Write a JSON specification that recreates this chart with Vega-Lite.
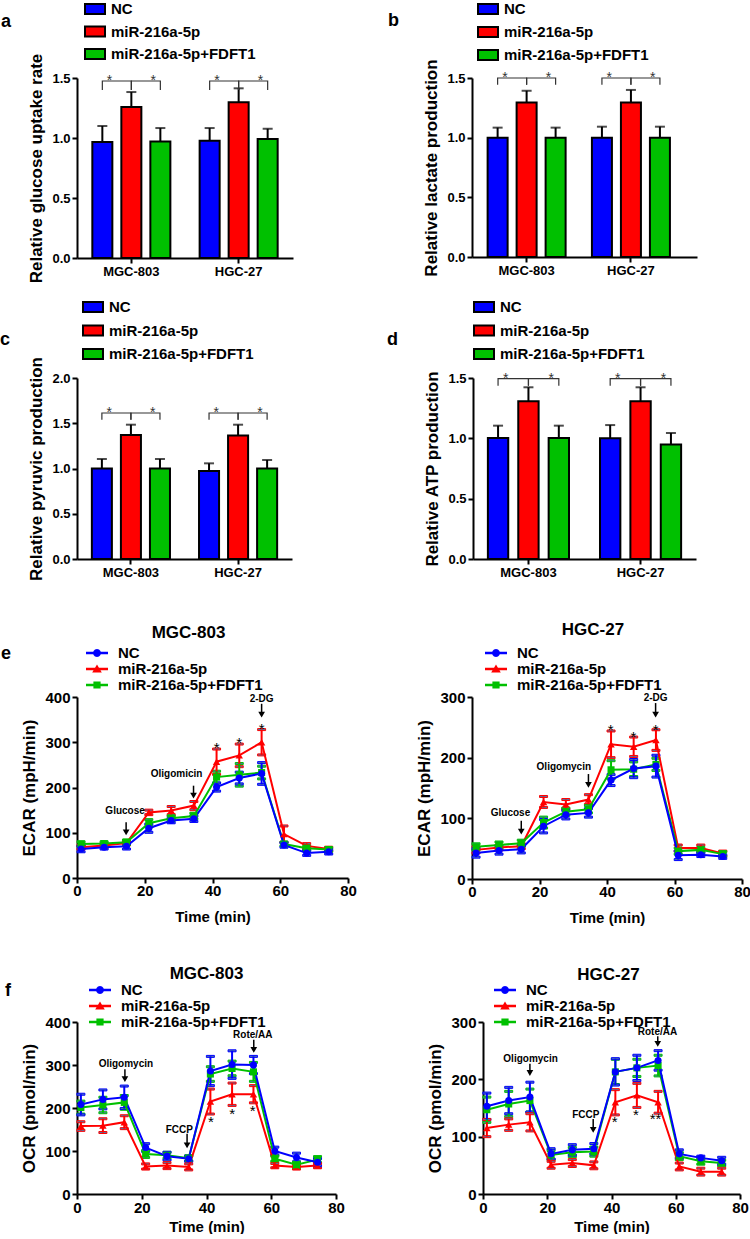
{
"$schema": "https://vega.github.io/schema/vega-lite/v6.json",
"padding": {"left": 0, "top": 0, "right": 0, "bottom": 0},
"config": {
 "font": "Liberation Sans",
 "view": {"stroke": null},
 "axis": {"domainColor": "#000", "domainWidth": 2, "tickColor": "#000", "tickWidth": 2, "tickSize": 5, "labelColor": "#000", "labelFont": "Liberation Sans", "labelFontWeight": "bold", "titleFont": "Liberation Sans", "titleFontWeight": "bold", "titleColor": "#000", "grid": false, "labelPadding": 2},
 "legend": {"labelFont": "Liberation Sans", "labelColor": "#000", "labelFontWeight": "bold", "labelFontSize": 15, "padding": 0, "titleFont": "Liberation Sans", "titleFontWeight": "bold", "titleColor": "#000", "titleFontSize": 18, "titleOrient": "left", "titleAnchor": "start", "titleBaseline": "top", "titleLimit": 0},
 "title": {"font": "Liberation Sans", "fontWeight": "bold", "color": "#000"}
},
"datasets": {
 "a_bar": [
  {"cell":"MGC-803","g":"NC","v":0.966,"hi":1.1},
  {"cell":"MGC-803","g":"miR-216a-5p","v":1.258,"hi":1.383},
  {"cell":"MGC-803","g":"miR-216a-5p+FDFT1","v":0.971,"hi":1.083},
  {"cell":"HGC-27","g":"NC","v":0.977,"hi":1.083},
  {"cell":"HGC-27","g":"miR-216a-5p","v":1.297,"hi":1.414},
  {"cell":"HGC-27","g":"miR-216a-5p+FDFT1","v":0.991,"hi":1.077}],
 "b_bar": [
  {"cell":"MGC-803","g":"NC","v":1.0,"hi":1.084},
  {"cell":"MGC-803","g":"miR-216a-5p","v":1.295,"hi":1.393},
  {"cell":"MGC-803","g":"miR-216a-5p+FDFT1","v":1.0,"hi":1.084},
  {"cell":"HGC-27","g":"NC","v":1.0,"hi":1.092},
  {"cell":"HGC-27","g":"miR-216a-5p","v":1.295,"hi":1.4},
  {"cell":"HGC-27","g":"miR-216a-5p+FDFT1","v":1.0,"hi":1.092}],
 "c_bar": [
  {"cell":"MGC-803","g":"NC","v":1.0,"hi":1.105},
  {"cell":"MGC-803","g":"miR-216a-5p","v":1.37,"hi":1.484},
  {"cell":"MGC-803","g":"miR-216a-5p+FDFT1","v":1.0,"hi":1.105},
  {"cell":"HGC-27","g":"NC","v":0.972,"hi":1.057},
  {"cell":"HGC-27","g":"miR-216a-5p","v":1.366,"hi":1.484},
  {"cell":"HGC-27","g":"miR-216a-5p+FDFT1","v":1.0,"hi":1.094}],
 "d_bar": [
  {"cell":"MGC-803","g":"NC","v":1.003,"hi":1.105},
  {"cell":"MGC-803","g":"miR-216a-5p","v":1.307,"hi":1.423},
  {"cell":"MGC-803","g":"miR-216a-5p+FDFT1","v":1.003,"hi":1.105},
  {"cell":"HGC-27","g":"NC","v":1.0,"hi":1.11},
  {"cell":"HGC-27","g":"miR-216a-5p","v":1.307,"hi":1.423},
  {"cell":"HGC-27","g":"miR-216a-5p+FDFT1","v":0.948,"hi":1.044}],
 "a_br": [
  {"cell":"MGC-803","b":"1","p":"p0","v":1.4,"o":0},{"cell":"MGC-803","b":"1","p":"p0","v":1.475,"o":1},{"cell":"MGC-803","b":"1","p":"p2","v":1.475,"o":2},{"cell":"MGC-803","b":"1","p":"p2","v":1.4,"o":3},
  {"cell":"MGC-803","b":"2","p":"p2","v":1.4,"o":0},{"cell":"MGC-803","b":"2","p":"p2","v":1.475,"o":1},{"cell":"MGC-803","b":"2","p":"p4","v":1.475,"o":2},{"cell":"MGC-803","b":"2","p":"p4","v":1.4,"o":3},
  {"cell":"HGC-27","b":"3","p":"p0","v":1.4,"o":0},{"cell":"HGC-27","b":"3","p":"p0","v":1.475,"o":1},{"cell":"HGC-27","b":"3","p":"p2","v":1.475,"o":2},{"cell":"HGC-27","b":"3","p":"p2","v":1.4,"o":3},
  {"cell":"HGC-27","b":"4","p":"p2","v":1.4,"o":0},{"cell":"HGC-27","b":"4","p":"p2","v":1.475,"o":1},{"cell":"HGC-27","b":"4","p":"p4","v":1.475,"o":2},{"cell":"HGC-27","b":"4","p":"p4","v":1.4,"o":3}],
 "b_br": [
  {"cell":"MGC-803","b":"1","p":"p0","v":1.444,"o":0},{"cell":"MGC-803","b":"1","p":"p0","v":1.5,"o":1},{"cell":"MGC-803","b":"1","p":"p2","v":1.5,"o":2},{"cell":"MGC-803","b":"1","p":"p2","v":1.444,"o":3},
  {"cell":"MGC-803","b":"2","p":"p2","v":1.444,"o":0},{"cell":"MGC-803","b":"2","p":"p2","v":1.5,"o":1},{"cell":"MGC-803","b":"2","p":"p4","v":1.5,"o":2},{"cell":"MGC-803","b":"2","p":"p4","v":1.444,"o":3},
  {"cell":"HGC-27","b":"3","p":"p0","v":1.444,"o":0},{"cell":"HGC-27","b":"3","p":"p0","v":1.5,"o":1},{"cell":"HGC-27","b":"3","p":"p2","v":1.5,"o":2},{"cell":"HGC-27","b":"3","p":"p2","v":1.444,"o":3},
  {"cell":"HGC-27","b":"4","p":"p2","v":1.444,"o":0},{"cell":"HGC-27","b":"4","p":"p2","v":1.5,"o":1},{"cell":"HGC-27","b":"4","p":"p4","v":1.5,"o":2},{"cell":"HGC-27","b":"4","p":"p4","v":1.444,"o":3}],
 "c_br": [
  {"cell":"MGC-803","b":"1","p":"p0","v":1.54,"o":0},{"cell":"MGC-803","b":"1","p":"p0","v":1.613,"o":1},{"cell":"MGC-803","b":"1","p":"p2","v":1.613,"o":2},{"cell":"MGC-803","b":"1","p":"p2","v":1.54,"o":3},
  {"cell":"MGC-803","b":"2","p":"p2","v":1.54,"o":0},{"cell":"MGC-803","b":"2","p":"p2","v":1.613,"o":1},{"cell":"MGC-803","b":"2","p":"p4","v":1.613,"o":2},{"cell":"MGC-803","b":"2","p":"p4","v":1.54,"o":3},
  {"cell":"HGC-27","b":"3","p":"p0","v":1.54,"o":0},{"cell":"HGC-27","b":"3","p":"p0","v":1.613,"o":1},{"cell":"HGC-27","b":"3","p":"p2","v":1.613,"o":2},{"cell":"HGC-27","b":"3","p":"p2","v":1.54,"o":3},
  {"cell":"HGC-27","b":"4","p":"p2","v":1.54,"o":0},{"cell":"HGC-27","b":"4","p":"p2","v":1.613,"o":1},{"cell":"HGC-27","b":"4","p":"p4","v":1.613,"o":2},{"cell":"HGC-27","b":"4","p":"p4","v":1.54,"o":3}],
 "d_br": [
  {"cell":"MGC-803","b":"1","p":"p0","v":1.436,"o":0},{"cell":"MGC-803","b":"1","p":"p0","v":1.494,"o":1},{"cell":"MGC-803","b":"1","p":"p2","v":1.494,"o":2},{"cell":"MGC-803","b":"1","p":"p2","v":1.436,"o":3},
  {"cell":"MGC-803","b":"2","p":"p2","v":1.436,"o":0},{"cell":"MGC-803","b":"2","p":"p2","v":1.494,"o":1},{"cell":"MGC-803","b":"2","p":"p4","v":1.494,"o":2},{"cell":"MGC-803","b":"2","p":"p4","v":1.436,"o":3},
  {"cell":"HGC-27","b":"3","p":"p0","v":1.436,"o":0},{"cell":"HGC-27","b":"3","p":"p0","v":1.494,"o":1},{"cell":"HGC-27","b":"3","p":"p2","v":1.494,"o":2},{"cell":"HGC-27","b":"3","p":"p2","v":1.436,"o":3},
  {"cell":"HGC-27","b":"4","p":"p2","v":1.436,"o":0},{"cell":"HGC-27","b":"4","p":"p2","v":1.494,"o":1},{"cell":"HGC-27","b":"4","p":"p4","v":1.494,"o":2},{"cell":"HGC-27","b":"4","p":"p4","v":1.436,"o":3}],
 "a_st": [{"cell":"MGC-803","p":"p1","v":1.475},{"cell":"MGC-803","p":"p3","v":1.475},{"cell":"HGC-27","p":"p1","v":1.475},{"cell":"HGC-27","p":"p3","v":1.475}],
 "b_st": [{"cell":"MGC-803","p":"p1","v":1.5},{"cell":"MGC-803","p":"p3","v":1.5},{"cell":"HGC-27","p":"p1","v":1.5},{"cell":"HGC-27","p":"p3","v":1.5}],
 "c_st": [{"cell":"MGC-803","p":"p1","v":1.613},{"cell":"MGC-803","p":"p3","v":1.613},{"cell":"HGC-27","p":"p1","v":1.613},{"cell":"HGC-27","p":"p3","v":1.613}],
 "d_st": [{"cell":"MGC-803","p":"p1","v":1.494},{"cell":"MGC-803","p":"p3","v":1.494},{"cell":"HGC-27","p":"p1","v":1.494},{"cell":"HGC-27","p":"p3","v":1.494}],
 "eL": [
  {"s":"miR-216a-5p","t":1.2,"v":68,"e":4},{"s":"miR-216a-5p","t":8,"v":72,"e":4},{"s":"miR-216a-5p","t":14.6,"v":77,"e":4},{"s":"miR-216a-5p","t":21.2,"v":145,"e":5},{"s":"miR-216a-5p","t":27.8,"v":149,"e":9},{"s":"miR-216a-5p","t":34.5,"v":160,"e":9},{"s":"miR-216a-5p","t":41.2,"v":257,"e":28},{"s":"miR-216a-5p","t":47.9,"v":271,"e":25},{"s":"miR-216a-5p","t":54.5,"v":300,"e":28},{"s":"miR-216a-5p","t":61.1,"v":97,"e":18},{"s":"miR-216a-5p","t":67.8,"v":71,"e":5},{"s":"miR-216a-5p","t":74.3,"v":64,"e":4},
  {"s":"miR-216a-5p+FDFT1","t":1.2,"v":75,"e":5},{"s":"miR-216a-5p+FDFT1","t":8,"v":76,"e":4},{"s":"miR-216a-5p+FDFT1","t":14.6,"v":79,"e":5},{"s":"miR-216a-5p+FDFT1","t":21.2,"v":121,"e":8},{"s":"miR-216a-5p+FDFT1","t":27.8,"v":132,"e":5},{"s":"miR-216a-5p+FDFT1","t":34.5,"v":137,"e":6},{"s":"miR-216a-5p+FDFT1","t":41.2,"v":223,"e":13},{"s":"miR-216a-5p+FDFT1","t":47.9,"v":228,"e":25},{"s":"miR-216a-5p+FDFT1","t":54.5,"v":233,"e":14},{"s":"miR-216a-5p+FDFT1","t":61.1,"v":75,"e":4},{"s":"miR-216a-5p+FDFT1","t":67.8,"v":66,"e":4},{"s":"miR-216a-5p+FDFT1","t":74.3,"v":63,"e":4},
  {"s":"NC","t":1.2,"v":64,"e":6},{"s":"NC","t":8,"v":68,"e":4},{"s":"NC","t":14.6,"v":70,"e":6},{"s":"NC","t":21.2,"v":110,"e":9},{"s":"NC","t":27.8,"v":127,"e":5},{"s":"NC","t":34.5,"v":131,"e":6},{"s":"NC","t":41.2,"v":201,"e":9},{"s":"NC","t":47.9,"v":221,"e":13},{"s":"NC","t":54.5,"v":231,"e":24},{"s":"NC","t":61.1,"v":73,"e":5},{"s":"NC","t":67.8,"v":55,"e":5},{"s":"NC","t":74.3,"v":58,"e":5}],
 "eR": [
  {"s":"miR-216a-5p","t":1.2,"v":48,"e":5},{"s":"miR-216a-5p","t":8,"v":52,"e":4},{"s":"miR-216a-5p","t":14.6,"v":54,"e":4},{"s":"miR-216a-5p","t":21.2,"v":127,"e":9},{"s":"miR-216a-5p","t":27.8,"v":123,"e":8},{"s":"miR-216a-5p","t":34.5,"v":131,"e":8},{"s":"miR-216a-5p","t":41.2,"v":222,"e":22},{"s":"miR-216a-5p","t":47.9,"v":218,"e":16},{"s":"miR-216a-5p","t":54.5,"v":229,"e":17},{"s":"miR-216a-5p","t":61.1,"v":51,"e":5},{"s":"miR-216a-5p","t":67.8,"v":51,"e":5},{"s":"miR-216a-5p","t":74.3,"v":42,"e":4},
  {"s":"miR-216a-5p+FDFT1","t":1.2,"v":53,"e":5},{"s":"miR-216a-5p+FDFT1","t":8,"v":56,"e":5},{"s":"miR-216a-5p+FDFT1","t":14.6,"v":59,"e":5},{"s":"miR-216a-5p+FDFT1","t":21.2,"v":93,"e":9},{"s":"miR-216a-5p+FDFT1","t":27.8,"v":111,"e":6},{"s":"miR-216a-5p+FDFT1","t":34.5,"v":115,"e":6},{"s":"miR-216a-5p+FDFT1","t":41.2,"v":180,"e":15},{"s":"miR-216a-5p+FDFT1","t":47.9,"v":181,"e":12},{"s":"miR-216a-5p+FDFT1","t":54.5,"v":189,"e":10},{"s":"miR-216a-5p+FDFT1","t":61.1,"v":46,"e":5},{"s":"miR-216a-5p+FDFT1","t":67.8,"v":48,"e":4},{"s":"miR-216a-5p+FDFT1","t":74.3,"v":41,"e":4},
  {"s":"NC","t":1.2,"v":43,"e":7},{"s":"NC","t":8,"v":47,"e":6},{"s":"NC","t":14.6,"v":49,"e":6},{"s":"NC","t":21.2,"v":87,"e":11},{"s":"NC","t":27.8,"v":106,"e":7},{"s":"NC","t":34.5,"v":109,"e":7},{"s":"NC","t":41.2,"v":163,"e":9},{"s":"NC","t":47.9,"v":182,"e":15},{"s":"NC","t":54.5,"v":186,"e":18},{"s":"NC","t":61.1,"v":39,"e":7},{"s":"NC","t":67.8,"v":40,"e":3},{"s":"NC","t":74.3,"v":37,"e":3}],
 "fL": [
  {"s":"miR-216a-5p","t":1.2,"v":158,"e":10},{"s":"miR-216a-5p","t":8,"v":159,"e":16},{"s":"miR-216a-5p","t":14.6,"v":167,"e":15},{"s":"miR-216a-5p","t":21.2,"v":64,"e":6},{"s":"miR-216a-5p","t":27.8,"v":66,"e":7},{"s":"miR-216a-5p","t":34.5,"v":63,"e":7},{"s":"miR-216a-5p","t":41.2,"v":215,"e":29},{"s":"miR-216a-5p","t":47.9,"v":232,"e":26},{"s":"miR-216a-5p","t":54.5,"v":232,"e":20},{"s":"miR-216a-5p","t":61.1,"v":66,"e":5},{"s":"miR-216a-5p","t":67.8,"v":63,"e":5},{"s":"miR-216a-5p","t":74.3,"v":66,"e":5},
  {"s":"miR-216a-5p+FDFT1","t":1.2,"v":201,"e":15},{"s":"miR-216a-5p+FDFT1","t":8,"v":207,"e":18},{"s":"miR-216a-5p+FDFT1","t":14.6,"v":213,"e":16},{"s":"miR-216a-5p+FDFT1","t":21.2,"v":93,"e":8},{"s":"miR-216a-5p+FDFT1","t":27.8,"v":90,"e":7},{"s":"miR-216a-5p+FDFT1","t":34.5,"v":83,"e":6},{"s":"miR-216a-5p+FDFT1","t":41.2,"v":279,"e":17},{"s":"miR-216a-5p+FDFT1","t":47.9,"v":292,"e":17},{"s":"miR-216a-5p+FDFT1","t":54.5,"v":284,"e":22},{"s":"miR-216a-5p+FDFT1","t":61.1,"v":82,"e":6},{"s":"miR-216a-5p+FDFT1","t":67.8,"v":68,"e":6},{"s":"miR-216a-5p+FDFT1","t":74.3,"v":80,"e":7},
  {"s":"NC","t":1.2,"v":208,"e":24},{"s":"NC","t":8,"v":220,"e":22},{"s":"NC","t":14.6,"v":225,"e":26},{"s":"NC","t":21.2,"v":108,"e":9},{"s":"NC","t":27.8,"v":88,"e":9},{"s":"NC","t":34.5,"v":82,"e":6},{"s":"NC","t":41.2,"v":286,"e":34},{"s":"NC","t":47.9,"v":301,"e":32},{"s":"NC","t":54.5,"v":300,"e":20},{"s":"NC","t":61.1,"v":100,"e":9},{"s":"NC","t":67.8,"v":85,"e":10},{"s":"NC","t":74.3,"v":74,"e":8}],
 "fR": [
  {"s":"miR-216a-5p","t":1.2,"v":115,"e":15},{"s":"miR-216a-5p","t":8,"v":121,"e":10},{"s":"miR-216a-5p","t":14.6,"v":125,"e":15},{"s":"miR-216a-5p","t":21.2,"v":51,"e":6},{"s":"miR-216a-5p","t":27.8,"v":54,"e":6},{"s":"miR-216a-5p","t":34.5,"v":50,"e":6},{"s":"miR-216a-5p","t":41.2,"v":160,"e":22},{"s":"miR-216a-5p","t":47.9,"v":172,"e":21},{"s":"miR-216a-5p","t":54.5,"v":160,"e":19},{"s":"miR-216a-5p","t":61.1,"v":48,"e":6},{"s":"miR-216a-5p","t":67.8,"v":39,"e":6},{"s":"miR-216a-5p","t":74.3,"v":39,"e":6},
  {"s":"miR-216a-5p+FDFT1","t":1.2,"v":147,"e":22},{"s":"miR-216a-5p+FDFT1","t":8,"v":157,"e":22},{"s":"miR-216a-5p+FDFT1","t":14.6,"v":163,"e":20},{"s":"miR-216a-5p+FDFT1","t":21.2,"v":68,"e":8},{"s":"miR-216a-5p+FDFT1","t":27.8,"v":73,"e":8},{"s":"miR-216a-5p+FDFT1","t":34.5,"v":74,"e":8},{"s":"miR-216a-5p+FDFT1","t":41.2,"v":213,"e":22},{"s":"miR-216a-5p+FDFT1","t":47.9,"v":220,"e":15},{"s":"miR-216a-5p+FDFT1","t":54.5,"v":224,"e":18},{"s":"miR-216a-5p+FDFT1","t":61.1,"v":66,"e":6},{"s":"miR-216a-5p+FDFT1","t":67.8,"v":57,"e":5},{"s":"miR-216a-5p+FDFT1","t":74.3,"v":54,"e":5},
  {"s":"NC","t":1.2,"v":153,"e":23},{"s":"NC","t":8,"v":163,"e":23},{"s":"NC","t":14.6,"v":169,"e":26},{"s":"NC","t":21.2,"v":70,"e":9},{"s":"NC","t":27.8,"v":77,"e":9},{"s":"NC","t":34.5,"v":79,"e":9},{"s":"NC","t":41.2,"v":213,"e":23},{"s":"NC","t":47.9,"v":220,"e":22},{"s":"NC","t":54.5,"v":233,"e":17},{"s":"NC","t":61.1,"v":70,"e":7},{"s":"NC","t":67.8,"v":63,"e":3},{"s":"NC","t":74.3,"v":58,"e":6}],
 "eL_txt": [{"t":14.2,"v":149,"label":"Glucose"},{"t":29.4,"v":229,"label":"Oligomicin"},{"t":54.5,"v":396,"label":"2-DG"}],
 "eL_arr": [{"t":14.5,"v":123,"v2":101},{"t":34.4,"v":204,"v2":182},{"t":54.5,"v":385,"v2":361}],
 "eL_st": [{"t":41.2,"v":297,"label":"*"},{"t":47.9,"v":308,"label":"*"},{"t":54.5,"v":339,"label":"*"}],
 "eR_txt": [{"t":11.4,"v":108,"label":"Glucose"},{"t":27.2,"v":184,"label":"Oligomycin"},{"t":54.4,"v":298,"label":"2-DG"}],
 "eR_arr": [{"t":14.6,"v":96,"v2":78},{"t":34.5,"v":173,"v2":155},{"t":54.4,"v":290,"v2":271}],
 "eR_st": [{"t":41.1,"v":252,"label":"*"},{"t":47.8,"v":241,"label":"*"},{"t":54.4,"v":253,"label":"*"}],
 "fL_txt": [{"t":15.1,"v":302,"label":"Oligomycin"},{"t":31.6,"v":150,"label":"FCCP"},{"t":54.3,"v":369,"label":"Rote/AA"}],
 "fL_arr": [{"t":14.8,"v":290,"v2":267},{"t":34,"v":140,"v2":113},{"t":54.6,"v":359,"v2":335}],
 "fL_st": [{"t":41.4,"v":177,"label":"*"},{"t":47.9,"v":196,"label":"*"},{"t":54.3,"v":203,"label":"*"}],
 "fR_txt": [{"t":14.8,"v":236,"label":"Oligomycin"},{"t":32,"v":137,"label":"FCCP"},{"t":54.3,"v":282,"label":"Rote/AA"}],
 "fR_arr": [{"t":14.6,"v":227,"v2":211},{"t":34.3,"v":131,"v2":112},{"t":54.4,"v":275,"v2":262}],
 "fR_st": [{"t":41,"v":133,"label":"*"},{"t":47.6,"v":144,"label":"*"},{"t":53.7,"v":138,"label":"**"}]
},
"resolve": {"scale": {"color": "independent", "shape": "independent", "stroke": "independent", "x": "independent", "y": "independent"}, "legend": {"color": "independent", "shape": "independent"}},
"spacing": 40,
"vconcat": [
 {
  "spacing": 15,
  "resolve": {"scale": {"color": "independent", "shape": "independent", "x": "independent", "y": "independent"}, "legend": {"color": "independent", "shape": "independent"}},
  "vconcat": [
   {
    "hconcat": [
     {
      "width": 216, "height": 180,
      "resolve": {"scale": {"xOffset": "independent"}},
      "encoding": {
       "x": {"field": "cell", "type": "nominal", "sort": ["MGC-803", "HGC-27"], "title": null, "scale": {"paddingInner": 0.189, "paddingOuter": 0.101}, "axis": {"labelAngle": 0, "labelFontSize": 13}},
       "y": {"field": "v", "type": "quantitative", "title": "Relative glucose uptake rate", "scale": {"domain": [0, 1.5], "nice": false}, "axis": {"values": [0, 0.5, 1, 1.5], "format": ".1f", "labelFontSize": 13, "titleFontSize": 17, "titlePadding": 6}}
      },
      "layer": [
       {"data": {"name": "a_bar"}, "mark": {"type": "bar", "stroke": "#000", "strokeWidth": 2}, "encoding": {
         "xOffset": {"field": "g", "type": "nominal", "sort": ["NC", "miR-216a-5p", "miR-216a-5p+FDFT1"], "scale": {"paddingInner": 0.31, "paddingOuter": 0.155}},
         "color": {"field": "g", "type": "nominal", "sort": ["NC", "miR-216a-5p", "miR-216a-5p+FDFT1"], "scale": {"domain": ["NC", "miR-216a-5p", "miR-216a-5p+FDFT1"], "range": ["#0000ff", "#ff0000", "#00c000"]},
          "legend": {"orient": "none", "legendX": -76, "legendY": -78, "title": ["", "a"], "titleLineHeight": 13, "titlePadding": 74, "symbolType": "M-1.25,-0.625L1.25,-0.625L1.25,0.625L-1.25,0.625Z", "symbolSize": 256, "symbolStrokeColor": "#000", "symbolStrokeWidth": 2, "labelFontSize": 15, "labelOffset": 7, "rowPadding": 4.5, "padding": 0,
           "encode": {"symbols": {"update": {"stroke": {"value": "#000"}, "strokeWidth": {"value": 2}, "opacity": {"value": 1}}}}}}}},
       {"data": {"name": "a_bar"}, "mark": {"type": "rule", "color": "#000", "strokeWidth": 2}, "encoding": {
         "xOffset": {"field": "g", "type": "nominal", "sort": ["NC", "miR-216a-5p", "miR-216a-5p+FDFT1"], "scale": {"paddingInner": 0.31, "paddingOuter": 0.155}},
         "y2": {"field": "hi"}}},
       {"data": {"name": "a_bar"}, "mark": {"type": "tick", "color": "#000", "thickness": 2, "size": 10, "orient": "horizontal"}, "encoding": {
         "xOffset": {"field": "g", "type": "nominal", "sort": ["NC", "miR-216a-5p", "miR-216a-5p+FDFT1"], "scale": {"paddingInner": 0.31, "paddingOuter": 0.155}},
         "y": {"field": "hi", "type": "quantitative", "title": "Relative glucose uptake rate", "scale": {"domain": [0, 1.5], "nice": false}}}},
       {"data": {"name": "a_br"}, "mark": {"type": "line", "color": "#333", "strokeWidth": 1.2}, "encoding": {
         "xOffset": {"field": "p", "type": "nominal", "sort": ["p0", "p1", "p2", "p3", "p4"], "scale": {"paddingInner": 0, "paddingOuter": 0.5}},
         "detail": {"field": "b"}, "order": {"field": "o"}}},
       {"data": {"name": "a_st"}, "mark": {"type": "text", "text": "*", "fontSize": 14, "baseline": "alphabetic", "dy": 4, "color": "#333"}, "encoding": {
         "xOffset": {"field": "p", "type": "nominal", "sort": ["p0", "p1", "p2", "p3", "p4"], "scale": {"paddingInner": 0, "paddingOuter": 0.5}}}}
      ]
     },
     {
      "width": 225, "height": 179,
      "resolve": {"scale": {"xOffset": "independent"}},
      "encoding": {
       "x": {"field": "cell", "type": "nominal", "sort": ["MGC-803", "HGC-27"], "title": null, "scale": {"paddingInner": 0.166, "paddingOuter": 0.1615, "align": 0.33}, "axis": {"labelAngle": 0, "labelFontSize": 13}},
       "y": {"field": "v", "type": "quantitative", "title": "Relative lactate production", "scale": {"domain": [0, 1.5], "nice": false}, "axis": {"values": [0, 0.5, 1, 1.5], "format": ".1f", "labelFontSize": 13, "titleFontSize": 17, "titlePadding": 6}}
      },
      "layer": [
       {"data": {"name": "b_bar"}, "mark": {"type": "bar", "stroke": "#000", "strokeWidth": 2}, "encoding": {
         "xOffset": {"field": "g", "type": "nominal", "sort": ["NC", "miR-216a-5p", "miR-216a-5p+FDFT1"], "scale": {"paddingInner": 0.31, "paddingOuter": 0.155}},
         "color": {"field": "g", "type": "nominal", "sort": ["NC", "miR-216a-5p", "miR-216a-5p+FDFT1"], "scale": {"domain": ["NC", "miR-216a-5p", "miR-216a-5p+FDFT1"], "range": ["#0000ff", "#ff0000", "#00c000"]},
          "legend": {"orient": "none", "legendX": -84, "legendY": -78, "title": ["", "b"], "titleLineHeight": 12, "titlePadding": 80, "symbolType": "M-1.25,-0.625L1.25,-0.625L1.25,0.625L-1.25,0.625Z", "symbolSize": 256, "symbolStrokeColor": "#000", "symbolStrokeWidth": 2, "labelFontSize": 15, "labelOffset": 7, "rowPadding": 5, "padding": 0,
           "encode": {"symbols": {"update": {"stroke": {"value": "#000"}, "strokeWidth": {"value": 2}, "opacity": {"value": 1}}}}}}}},
       {"data": {"name": "b_bar"}, "mark": {"type": "rule", "color": "#000", "strokeWidth": 2}, "encoding": {
         "xOffset": {"field": "g", "type": "nominal", "sort": ["NC", "miR-216a-5p", "miR-216a-5p+FDFT1"], "scale": {"paddingInner": 0.31, "paddingOuter": 0.155}},
         "y2": {"field": "hi"}}},
       {"data": {"name": "b_bar"}, "mark": {"type": "tick", "color": "#000", "thickness": 2, "size": 10, "orient": "horizontal"}, "encoding": {
         "xOffset": {"field": "g", "type": "nominal", "sort": ["NC", "miR-216a-5p", "miR-216a-5p+FDFT1"], "scale": {"paddingInner": 0.31, "paddingOuter": 0.155}},
         "y": {"field": "hi", "type": "quantitative", "title": "Relative lactate production", "scale": {"domain": [0, 1.5], "nice": false}}}},
       {"data": {"name": "b_br"}, "mark": {"type": "line", "color": "#333", "strokeWidth": 1.2}, "encoding": {
         "xOffset": {"field": "p", "type": "nominal", "sort": ["p0", "p1", "p2", "p3", "p4"], "scale": {"paddingInner": 0, "paddingOuter": 0.5}},
         "detail": {"field": "b"}, "order": {"field": "o"}}},
       {"data": {"name": "b_st"}, "mark": {"type": "text", "text": "*", "fontSize": 14, "baseline": "alphabetic", "dy": 4, "color": "#333"}, "encoding": {
         "xOffset": {"field": "p", "type": "nominal", "sort": ["p0", "p1", "p2", "p3", "p4"], "scale": {"paddingInner": 0, "paddingOuter": 0.5}}}}
      ]
     }
    ],
    "spacing": 179, "bounds": "flush",
    "resolve": {"scale": {"color": "independent", "shape": "independent", "x": "independent", "y": "independent"}, "legend": {"color": "independent", "shape": "independent"}}
   },
   {
    "hconcat": [
     {
      "width": 215, "height": 181,
      "resolve": {"scale": {"xOffset": "independent"}},
      "encoding": {
       "x": {"field": "cell", "type": "nominal", "sort": ["MGC-803", "HGC-27"], "title": null, "scale": {"paddingInner": 0.187, "paddingOuter": 0.0967}, "axis": {"labelAngle": 0, "labelFontSize": 13}},
       "y": {"field": "v", "type": "quantitative", "title": "Relative pyruvic production", "scale": {"domain": [0, 2], "nice": false}, "axis": {"values": [0, 0.5, 1, 1.5, 2], "format": ".1f", "labelFontSize": 13, "titleFontSize": 17, "titlePadding": 6}}
      },
      "layer": [
       {"data": {"name": "c_bar"}, "mark": {"type": "bar", "stroke": "#000", "strokeWidth": 2}, "encoding": {
         "xOffset": {"field": "g", "type": "nominal", "sort": ["NC", "miR-216a-5p", "miR-216a-5p+FDFT1"], "scale": {"paddingInner": 0.31, "paddingOuter": 0.155}},
         "color": {"field": "g", "type": "nominal", "sort": ["NC", "miR-216a-5p", "miR-216a-5p+FDFT1"], "scale": {"domain": ["NC", "miR-216a-5p", "miR-216a-5p+FDFT1"], "range": ["#0000ff", "#ff0000", "#00c000"]},
          "legend": {"orient": "none", "legendX": -77, "legendY": -80, "title": ["", "c"], "titleLineHeight": 33, "titlePadding": 73, "symbolType": "M-1.25,-0.625L1.25,-0.625L1.25,0.625L-1.25,0.625Z", "symbolSize": 256, "symbolStrokeColor": "#000", "symbolStrokeWidth": 2, "labelFontSize": 15, "labelOffset": 7, "rowPadding": 5.5, "padding": 0,
           "encode": {"symbols": {"update": {"stroke": {"value": "#000"}, "strokeWidth": {"value": 2}, "opacity": {"value": 1}}}}}}}},
       {"data": {"name": "c_bar"}, "mark": {"type": "rule", "color": "#000", "strokeWidth": 2}, "encoding": {
         "xOffset": {"field": "g", "type": "nominal", "sort": ["NC", "miR-216a-5p", "miR-216a-5p+FDFT1"], "scale": {"paddingInner": 0.31, "paddingOuter": 0.155}},
         "y2": {"field": "hi"}}},
       {"data": {"name": "c_bar"}, "mark": {"type": "tick", "color": "#000", "thickness": 2, "size": 10, "orient": "horizontal"}, "encoding": {
         "xOffset": {"field": "g", "type": "nominal", "sort": ["NC", "miR-216a-5p", "miR-216a-5p+FDFT1"], "scale": {"paddingInner": 0.31, "paddingOuter": 0.155}},
         "y": {"field": "hi", "type": "quantitative", "title": "Relative pyruvic production", "scale": {"domain": [0, 2], "nice": false}}}},
       {"data": {"name": "c_br"}, "mark": {"type": "line", "color": "#333", "strokeWidth": 1.2}, "encoding": {
         "xOffset": {"field": "p", "type": "nominal", "sort": ["p0", "p1", "p2", "p3", "p4"], "scale": {"paddingInner": 0, "paddingOuter": 0.5}},
         "detail": {"field": "b"}, "order": {"field": "o"}}},
       {"data": {"name": "c_st"}, "mark": {"type": "text", "text": "*", "fontSize": 14, "baseline": "alphabetic", "dy": 4, "color": "#333"}, "encoding": {
         "xOffset": {"field": "p", "type": "nominal", "sort": ["p0", "p1", "p2", "p3", "p4"], "scale": {"paddingInner": 0, "paddingOuter": 0.5}}}}
      ]
     },
     {
      "width": 223, "height": 181,
      "resolve": {"scale": {"xOffset": "independent"}},
      "encoding": {
       "x": {"field": "cell", "type": "nominal", "sort": ["MGC-803", "HGC-27"], "title": null, "scale": {"paddingInner": 0.187, "paddingOuter": 0.088}, "axis": {"labelAngle": 0, "labelFontSize": 13}},
       "y": {"field": "v", "type": "quantitative", "title": "Relative ATP production", "scale": {"domain": [0, 1.5], "nice": false}, "axis": {"values": [0, 0.5, 1, 1.5], "format": ".1f", "labelFontSize": 13, "titleFontSize": 17, "titlePadding": 6}}
      },
      "layer": [
       {"data": {"name": "d_bar"}, "mark": {"type": "bar", "stroke": "#000", "strokeWidth": 2}, "encoding": {
         "xOffset": {"field": "g", "type": "nominal", "sort": ["NC", "miR-216a-5p", "miR-216a-5p+FDFT1"], "scale": {"paddingInner": 0.33, "paddingOuter": 0.165}},
         "color": {"field": "g", "type": "nominal", "sort": ["NC", "miR-216a-5p", "miR-216a-5p+FDFT1"], "scale": {"domain": ["NC", "miR-216a-5p", "miR-216a-5p+FDFT1"], "range": ["#0000ff", "#ff0000", "#00c000"]},
          "legend": {"orient": "none", "legendX": -86, "legendY": -80, "title": ["", "d"], "titleLineHeight": 33, "titlePadding": 77, "symbolType": "M-1.25,-0.625L1.25,-0.625L1.25,0.625L-1.25,0.625Z", "symbolSize": 256, "symbolStrokeColor": "#000", "symbolStrokeWidth": 2, "labelFontSize": 15, "labelOffset": 7, "rowPadding": 5.5, "padding": 0,
           "encode": {"symbols": {"update": {"stroke": {"value": "#000"}, "strokeWidth": {"value": 2}, "opacity": {"value": 1}}}}}}}},
       {"data": {"name": "d_bar"}, "mark": {"type": "rule", "color": "#000", "strokeWidth": 2}, "encoding": {
         "xOffset": {"field": "g", "type": "nominal", "sort": ["NC", "miR-216a-5p", "miR-216a-5p+FDFT1"], "scale": {"paddingInner": 0.33, "paddingOuter": 0.165}},
         "y2": {"field": "hi"}}},
       {"data": {"name": "d_bar"}, "mark": {"type": "tick", "color": "#000", "thickness": 2, "size": 10, "orient": "horizontal"}, "encoding": {
         "xOffset": {"field": "g", "type": "nominal", "sort": ["NC", "miR-216a-5p", "miR-216a-5p+FDFT1"], "scale": {"paddingInner": 0.33, "paddingOuter": 0.165}},
         "y": {"field": "hi", "type": "quantitative", "title": "Relative ATP production", "scale": {"domain": [0, 1.5], "nice": false}}}},
       {"data": {"name": "d_br"}, "mark": {"type": "line", "color": "#333", "strokeWidth": 1.2}, "encoding": {
         "xOffset": {"field": "p", "type": "nominal", "sort": ["p0", "p1", "p2", "p3", "p4"], "scale": {"paddingInner": 0, "paddingOuter": 0.5}},
         "detail": {"field": "b"}, "order": {"field": "o"}}},
       {"data": {"name": "d_st"}, "mark": {"type": "text", "text": "*", "fontSize": 14, "baseline": "alphabetic", "dy": 4, "color": "#333"}, "encoding": {
         "xOffset": {"field": "p", "type": "nominal", "sort": ["p0", "p1", "p2", "p3", "p4"], "scale": {"paddingInner": 0, "paddingOuter": 0.5}}}}
      ]
     }
    ],
    "spacing": 181, "bounds": "flush",
    "resolve": {"scale": {"color": "independent", "shape": "independent", "x": "independent", "y": "independent"}, "legend": {"color": "independent", "shape": "independent"}}
   }
  ]
 },
 {
  "spacing": 40,
  "resolve": {"scale": {"color": "independent", "shape": "independent", "stroke": "independent", "x": "independent", "y": "independent"}, "legend": {"color": "independent", "shape": "independent"}},
  "vconcat": [
   {
    "spacing": 124, "bounds": "flush",
    "resolve": {"scale": {"color": "independent", "shape": "independent", "stroke": "independent", "x": "independent", "y": "independent"}, "legend": {"color": "independent", "shape": "independent"}},
    "hconcat": [
     {
      "width": 271, "height": 181,
      "title": {"text": "MGC-803", "anchor": "middle", "frame": "group", "fontSize": 17, "dx": -24, "offset": -10, "baseline": "alphabetic"},
      "encoding": {
       "x": {"field": "t", "type": "quantitative", "title": "Time (min)", "scale": {"domain": [0, 80], "nice": false}, "axis": {"values": [0, 20, 40, 60, 80], "labelFontSize": 15, "titleFontSize": 15, "labelPadding": 0, "titlePadding": 11, "labelFlush": false}},
       "y": {"field": "v", "type": "quantitative", "title": "ECAR (mpH/min)", "scale": {"domain": [0, 400], "nice": false}, "axis": {"values": [0, 100, 200, 300, 400], "labelFontSize": 15, "titleFontSize": 17, "titlePadding": 6}}
      },
      "layer": [
       {"data": {"name": "eL"}, "mark": {"type": "point", "filled": true, "size": 1, "opacity": 0}, "encoding": {
         "color": {"field": "s", "type": "nominal", "sort": ["NC", "miR-216a-5p", "miR-216a-5p+FDFT1"], "scale": {"domain": ["NC", "miR-216a-5p", "miR-216a-5p+FDFT1"], "range": ["#0000ff", "#ff0000", "#00c000"]},
          "legend": {"orient": "none", "legendX": -76, "legendY": -52, "title": "e", "titlePadding": 77, "symbolSize": 256, "symbolStrokeWidth": 0, "symbolOpacity": 1, "labelFontSize": 15, "labelOffset": 13, "rowPadding": 0, "padding": 0}},
         "shape": {"field": "s", "type": "nominal", "sort": ["NC", "miR-216a-5p", "miR-216a-5p+FDFT1"], "scale": {"domain": ["NC", "miR-216a-5p", "miR-216a-5p+FDFT1"], "range": ["M-1.375,-0.15L1.375,-0.15L1.375,0.15L-1.375,0.15ZM0.5,0L0.433,0.25L0.25,0.433L0,0.5L-0.25,0.433L-0.433,0.25L-0.5,0L-0.433,-0.25L-0.25,-0.433L0,-0.5L0.25,-0.433L0.433,-0.25Z", "M-1.375,-0.15L1.375,-0.15L1.375,0.15L-1.375,0.15ZM0,-0.55L0.6,0.45L-0.6,0.45Z", "M-1.375,-0.15L1.375,-0.15L1.375,0.15L-1.375,0.15ZM-0.45,-0.45L0.45,-0.45L0.45,0.45L-0.45,0.45Z"]},
          "legend": {"orient": "none", "legendX": -76, "legendY": -52, "title": "e", "titlePadding": 77, "symbolSize": 256, "symbolStrokeWidth": 0, "symbolOpacity": 1, "labelFontSize": 15, "labelOffset": 13, "rowPadding": 0, "padding": 0}}}},
       {"data": {"name": "eL"}, "mark": {"type": "errorbar", "thickness": 2, "opacity": 1, "ticks": {"size": 8, "opacity": 1}, "rule": {"opacity": 1}}, "encoding": {"yError": {"field": "e"},
         "stroke": {"field": "s", "type": "nominal", "sort": ["NC", "miR-216a-5p", "miR-216a-5p+FDFT1"], "scale": {"domain": ["NC", "miR-216a-5p", "miR-216a-5p+FDFT1"], "range": ["#0000ff", "#ff0000", "#00c000"]}, "legend": null}}},
       {"data": {"name": "eL"}, "mark": {"type": "line", "strokeWidth": 2}, "encoding": {
         "stroke": {"field": "s", "type": "nominal", "sort": ["NC", "miR-216a-5p", "miR-216a-5p+FDFT1"], "scale": {"domain": ["NC", "miR-216a-5p", "miR-216a-5p+FDFT1"], "range": ["#0000ff", "#ff0000", "#00c000"]}, "legend": null}}},
       {"data": {"name": "eL"}, "transform": [{"filter": "datum.s === 'miR-216a-5p'"}], "mark": {"type": "point", "shape": "triangle-up", "filled": true, "size": 55, "opacity": 1, "color": "#ff0000"}, "encoding": {}},
       {"data": {"name": "eL"}, "transform": [{"filter": "datum.s === 'miR-216a-5p+FDFT1'"}], "mark": {"type": "point", "shape": "square", "filled": true, "size": 50, "opacity": 1, "color": "#00c000"}, "encoding": {}},
       {"data": {"name": "eL"}, "transform": [{"filter": "datum.s === 'NC'"}], "mark": {"type": "point", "shape": "circle", "filled": true, "size": 50, "opacity": 1, "color": "#0000ff"}, "encoding": {}},
       {"data": {"name": "eL_txt"}, "mark": {"type": "text", "fontSize": 10, "fontWeight": "bold", "baseline": "middle", "color": "#000"}, "encoding": {"text": {"field": "label"}}},
       {"data": {"name": "eL_arr"}, "mark": {"type": "rule", "strokeWidth": 1.5, "color": "#000"}, "encoding": {"y2": {"field": "v2"}}},
       {"data": {"name": "eL_arr"}, "mark": {"type": "point", "shape": "triangle-down", "filled": true, "color": "#000", "size": 45, "opacity": 1}, "encoding": {"y": {"field": "v2", "type": "quantitative", "title": "ECAR (mpH/min)", "scale": {"domain": [0, 400], "nice": false}}}},
       {"data": {"name": "eL_st"}, "mark": {"type": "text", "fontSize": 15, "baseline": "alphabetic", "dy": 9, "color": "#000"}, "encoding": {"text": {"field": "label"}}}
      ]
     },
     {
      "width": 270, "height": 182,
      "title": {"text": "HGC-27", "anchor": "middle", "frame": "group", "fontSize": 17, "dx": -14, "offset": -7, "baseline": "alphabetic"},
      "encoding": {
       "x": {"field": "t", "type": "quantitative", "title": "Time (min)", "scale": {"domain": [0, 80], "nice": false}, "axis": {"values": [0, 20, 40, 60, 80], "labelFontSize": 15, "titleFontSize": 15, "labelPadding": 0, "titlePadding": 11, "labelFlush": false}},
       "y": {"field": "v", "type": "quantitative", "title": "ECAR (mpH/min)", "scale": {"domain": [0, 300], "nice": false}, "axis": {"values": [0, 100, 200, 300], "labelFontSize": 15, "titleFontSize": 17, "titlePadding": 6}}
      },
      "layer": [
       {"data": {"name": "eR"}, "mark": {"type": "point", "filled": true, "size": 1, "opacity": 0}, "encoding": {
         "color": {"field": "s", "type": "nominal", "sort": ["NC", "miR-216a-5p", "miR-216a-5p+FDFT1"], "scale": {"domain": ["NC", "miR-216a-5p", "miR-216a-5p+FDFT1"], "range": ["#0000ff", "#ff0000", "#00c000"]},
          "legend": {"orient": "none", "legendX": 16, "legendY": -52, "title": null, "symbolSize": 256, "symbolStrokeWidth": 0, "symbolOpacity": 1, "labelFontSize": 15, "labelOffset": 13, "rowPadding": 0, "padding": 0}},
         "shape": {"field": "s", "type": "nominal", "sort": ["NC", "miR-216a-5p", "miR-216a-5p+FDFT1"], "scale": {"domain": ["NC", "miR-216a-5p", "miR-216a-5p+FDFT1"], "range": ["M-1.375,-0.15L1.375,-0.15L1.375,0.15L-1.375,0.15ZM0.5,0L0.433,0.25L0.25,0.433L0,0.5L-0.25,0.433L-0.433,0.25L-0.5,0L-0.433,-0.25L-0.25,-0.433L0,-0.5L0.25,-0.433L0.433,-0.25Z", "M-1.375,-0.15L1.375,-0.15L1.375,0.15L-1.375,0.15ZM0,-0.55L0.6,0.45L-0.6,0.45Z", "M-1.375,-0.15L1.375,-0.15L1.375,0.15L-1.375,0.15ZM-0.45,-0.45L0.45,-0.45L0.45,0.45L-0.45,0.45Z"]},
          "legend": {"orient": "none", "legendX": 16, "legendY": -52, "title": null, "symbolSize": 256, "symbolStrokeWidth": 0, "symbolOpacity": 1, "labelFontSize": 15, "labelOffset": 13, "rowPadding": 0, "padding": 0}}}},
       {"data": {"name": "eR"}, "mark": {"type": "errorbar", "thickness": 2, "opacity": 1, "ticks": {"size": 8, "opacity": 1}, "rule": {"opacity": 1}}, "encoding": {"yError": {"field": "e"},
         "stroke": {"field": "s", "type": "nominal", "sort": ["NC", "miR-216a-5p", "miR-216a-5p+FDFT1"], "scale": {"domain": ["NC", "miR-216a-5p", "miR-216a-5p+FDFT1"], "range": ["#0000ff", "#ff0000", "#00c000"]}, "legend": null}}},
       {"data": {"name": "eR"}, "mark": {"type": "line", "strokeWidth": 2}, "encoding": {
         "stroke": {"field": "s", "type": "nominal", "sort": ["NC", "miR-216a-5p", "miR-216a-5p+FDFT1"], "scale": {"domain": ["NC", "miR-216a-5p", "miR-216a-5p+FDFT1"], "range": ["#0000ff", "#ff0000", "#00c000"]}, "legend": null}}},
       {"data": {"name": "eR"}, "transform": [{"filter": "datum.s === 'miR-216a-5p'"}], "mark": {"type": "point", "shape": "triangle-up", "filled": true, "size": 55, "opacity": 1, "color": "#ff0000"}, "encoding": {}},
       {"data": {"name": "eR"}, "transform": [{"filter": "datum.s === 'miR-216a-5p+FDFT1'"}], "mark": {"type": "point", "shape": "square", "filled": true, "size": 50, "opacity": 1, "color": "#00c000"}, "encoding": {}},
       {"data": {"name": "eR"}, "transform": [{"filter": "datum.s === 'NC'"}], "mark": {"type": "point", "shape": "circle", "filled": true, "size": 50, "opacity": 1, "color": "#0000ff"}, "encoding": {}},
       {"data": {"name": "eR_txt"}, "mark": {"type": "text", "fontSize": 10, "fontWeight": "bold", "baseline": "middle", "color": "#000"}, "encoding": {"text": {"field": "label"}}},
       {"data": {"name": "eR_arr"}, "mark": {"type": "rule", "strokeWidth": 1.5, "color": "#000"}, "encoding": {"y2": {"field": "v2"}}},
       {"data": {"name": "eR_arr"}, "mark": {"type": "point", "shape": "triangle-down", "filled": true, "color": "#000", "size": 45, "opacity": 1}, "encoding": {"y": {"field": "v2", "type": "quantitative", "title": "ECAR (mpH/min)", "scale": {"domain": [0, 300], "nice": false}}}},
       {"data": {"name": "eR_st"}, "mark": {"type": "text", "fontSize": 15, "baseline": "alphabetic", "dy": 9, "color": "#000"}, "encoding": {"text": {"field": "label"}}}
      ]
     }
    ]
   },
   {
    "spacing": 147, "bounds": "flush",
    "resolve": {"scale": {"color": "independent", "shape": "independent", "stroke": "independent", "x": "independent", "y": "independent"}, "legend": {"color": "independent", "shape": "independent"}},
    "hconcat": [
     {
      "width": 259, "height": 172,
      "title": {"text": "MGC-803", "anchor": "middle", "frame": "group", "fontSize": 17, "dx": 0, "offset": -14, "baseline": "alphabetic"},
      "encoding": {
       "x": {"field": "t", "type": "quantitative", "title": "Time (min)", "scale": {"domain": [0, 80], "nice": false}, "axis": {"values": [0, 20, 40, 60, 80], "labelFontSize": 15, "titleFontSize": 15, "labelPadding": 1, "titlePadding": 4, "labelFlush": false}},
       "y": {"field": "v", "type": "quantitative", "title": "OCR (pmol/min)", "scale": {"domain": [0, 400], "nice": false}, "axis": {"values": [0, 100, 200, 300, 400], "labelFontSize": 15, "titleFontSize": 17, "titlePadding": 6}}
      },
      "layer": [
       {"data": {"name": "fL"}, "mark": {"type": "point", "filled": true, "size": 1, "opacity": 0}, "encoding": {
         "color": {"field": "s", "type": "nominal", "sort": ["NC", "miR-216a-5p", "miR-216a-5p+FDFT1"], "scale": {"domain": ["NC", "miR-216a-5p", "miR-216a-5p+FDFT1"], "range": ["#0000ff", "#ff0000", "#00c000"]},
          "legend": {"orient": "none", "legendX": -72, "legendY": -40, "title": "f", "titlePadding": 81, "symbolSize": 256, "symbolStrokeWidth": 0, "symbolOpacity": 1, "labelFontSize": 15, "labelOffset": 13, "rowPadding": -1, "padding": 0}},
         "shape": {"field": "s", "type": "nominal", "sort": ["NC", "miR-216a-5p", "miR-216a-5p+FDFT1"], "scale": {"domain": ["NC", "miR-216a-5p", "miR-216a-5p+FDFT1"], "range": ["M-1.375,-0.15L1.375,-0.15L1.375,0.15L-1.375,0.15ZM0.5,0L0.433,0.25L0.25,0.433L0,0.5L-0.25,0.433L-0.433,0.25L-0.5,0L-0.433,-0.25L-0.25,-0.433L0,-0.5L0.25,-0.433L0.433,-0.25Z", "M-1.375,-0.15L1.375,-0.15L1.375,0.15L-1.375,0.15ZM0,-0.55L0.6,0.45L-0.6,0.45Z", "M-1.375,-0.15L1.375,-0.15L1.375,0.15L-1.375,0.15ZM-0.45,-0.45L0.45,-0.45L0.45,0.45L-0.45,0.45Z"]},
          "legend": {"orient": "none", "legendX": -72, "legendY": -40, "title": "f", "titlePadding": 81, "symbolSize": 256, "symbolStrokeWidth": 0, "symbolOpacity": 1, "labelFontSize": 15, "labelOffset": 13, "rowPadding": -1, "padding": 0}}}},
       {"data": {"name": "fL"}, "mark": {"type": "errorbar", "thickness": 2, "opacity": 1, "ticks": {"size": 8, "opacity": 1}, "rule": {"opacity": 1}}, "encoding": {"yError": {"field": "e"},
         "stroke": {"field": "s", "type": "nominal", "sort": ["NC", "miR-216a-5p", "miR-216a-5p+FDFT1"], "scale": {"domain": ["NC", "miR-216a-5p", "miR-216a-5p+FDFT1"], "range": ["#0000ff", "#ff0000", "#00c000"]}, "legend": null}}},
       {"data": {"name": "fL"}, "mark": {"type": "line", "strokeWidth": 2}, "encoding": {
         "stroke": {"field": "s", "type": "nominal", "sort": ["NC", "miR-216a-5p", "miR-216a-5p+FDFT1"], "scale": {"domain": ["NC", "miR-216a-5p", "miR-216a-5p+FDFT1"], "range": ["#0000ff", "#ff0000", "#00c000"]}, "legend": null}}},
       {"data": {"name": "fL"}, "transform": [{"filter": "datum.s === 'miR-216a-5p'"}], "mark": {"type": "point", "shape": "triangle-up", "filled": true, "size": 55, "opacity": 1, "color": "#ff0000"}, "encoding": {}},
       {"data": {"name": "fL"}, "transform": [{"filter": "datum.s === 'miR-216a-5p+FDFT1'"}], "mark": {"type": "point", "shape": "square", "filled": true, "size": 50, "opacity": 1, "color": "#00c000"}, "encoding": {}},
       {"data": {"name": "fL"}, "transform": [{"filter": "datum.s === 'NC'"}], "mark": {"type": "point", "shape": "circle", "filled": true, "size": 50, "opacity": 1, "color": "#0000ff"}, "encoding": {}},
       {"data": {"name": "fL_txt"}, "mark": {"type": "text", "fontSize": 10, "fontWeight": "bold", "baseline": "middle", "color": "#000"}, "encoding": {"text": {"field": "label"}}},
       {"data": {"name": "fL_arr"}, "mark": {"type": "rule", "strokeWidth": 1.5, "color": "#000"}, "encoding": {"y2": {"field": "v2"}}},
       {"data": {"name": "fL_arr"}, "mark": {"type": "point", "shape": "triangle-down", "filled": true, "color": "#000", "size": 45, "opacity": 1}, "encoding": {"y": {"field": "v2", "type": "quantitative", "title": "OCR (pmol/min)", "scale": {"domain": [0, 400], "nice": false}}}},
       {"data": {"name": "fL_st"}, "mark": {"type": "text", "fontSize": 15, "baseline": "alphabetic", "dy": 9, "color": "#000"}, "encoding": {"text": {"field": "label"}}}
      ]
     },
     {
      "width": 257, "height": 172,
      "title": {"text": "HGC-27", "anchor": "middle", "frame": "group", "fontSize": 17, "dx": -3, "offset": -15, "baseline": "alphabetic"},
      "encoding": {
       "x": {"field": "t", "type": "quantitative", "title": "Time (min)", "scale": {"domain": [0, 80], "nice": false}, "axis": {"values": [0, 20, 40, 60, 80], "labelFontSize": 15, "titleFontSize": 15, "labelPadding": 1, "titlePadding": 4, "labelFlush": false}},
       "y": {"field": "v", "type": "quantitative", "title": "OCR (pmol/min)", "scale": {"domain": [0, 300], "nice": false}, "axis": {"values": [0, 100, 200, 300], "labelFontSize": 15, "titleFontSize": 17, "titlePadding": 6}}
      },
      "layer": [
       {"data": {"name": "fR"}, "mark": {"type": "point", "filled": true, "size": 1, "opacity": 0}, "encoding": {
         "color": {"field": "s", "type": "nominal", "sort": ["NC", "miR-216a-5p", "miR-216a-5p+FDFT1"], "scale": {"domain": ["NC", "miR-216a-5p", "miR-216a-5p+FDFT1"], "range": ["#0000ff", "#ff0000", "#00c000"]},
          "legend": {"orient": "none", "legendX": 14, "legendY": -40, "title": null, "symbolSize": 256, "symbolStrokeWidth": 0, "symbolOpacity": 1, "labelFontSize": 15, "labelOffset": 13, "rowPadding": -1, "padding": 0}},
         "shape": {"field": "s", "type": "nominal", "sort": ["NC", "miR-216a-5p", "miR-216a-5p+FDFT1"], "scale": {"domain": ["NC", "miR-216a-5p", "miR-216a-5p+FDFT1"], "range": ["M-1.375,-0.15L1.375,-0.15L1.375,0.15L-1.375,0.15ZM0.5,0L0.433,0.25L0.25,0.433L0,0.5L-0.25,0.433L-0.433,0.25L-0.5,0L-0.433,-0.25L-0.25,-0.433L0,-0.5L0.25,-0.433L0.433,-0.25Z", "M-1.375,-0.15L1.375,-0.15L1.375,0.15L-1.375,0.15ZM0,-0.55L0.6,0.45L-0.6,0.45Z", "M-1.375,-0.15L1.375,-0.15L1.375,0.15L-1.375,0.15ZM-0.45,-0.45L0.45,-0.45L0.45,0.45L-0.45,0.45Z"]},
          "legend": {"orient": "none", "legendX": 14, "legendY": -40, "title": null, "symbolSize": 256, "symbolStrokeWidth": 0, "symbolOpacity": 1, "labelFontSize": 15, "labelOffset": 13, "rowPadding": -1, "padding": 0}}}},
       {"data": {"name": "fR"}, "mark": {"type": "errorbar", "thickness": 2, "opacity": 1, "ticks": {"size": 8, "opacity": 1}, "rule": {"opacity": 1}}, "encoding": {"yError": {"field": "e"},
         "stroke": {"field": "s", "type": "nominal", "sort": ["NC", "miR-216a-5p", "miR-216a-5p+FDFT1"], "scale": {"domain": ["NC", "miR-216a-5p", "miR-216a-5p+FDFT1"], "range": ["#0000ff", "#ff0000", "#00c000"]}, "legend": null}}},
       {"data": {"name": "fR"}, "mark": {"type": "line", "strokeWidth": 2}, "encoding": {
         "stroke": {"field": "s", "type": "nominal", "sort": ["NC", "miR-216a-5p", "miR-216a-5p+FDFT1"], "scale": {"domain": ["NC", "miR-216a-5p", "miR-216a-5p+FDFT1"], "range": ["#0000ff", "#ff0000", "#00c000"]}, "legend": null}}},
       {"data": {"name": "fR"}, "transform": [{"filter": "datum.s === 'miR-216a-5p'"}], "mark": {"type": "point", "shape": "triangle-up", "filled": true, "size": 55, "opacity": 1, "color": "#ff0000"}, "encoding": {}},
       {"data": {"name": "fR"}, "transform": [{"filter": "datum.s === 'miR-216a-5p+FDFT1'"}], "mark": {"type": "point", "shape": "square", "filled": true, "size": 50, "opacity": 1, "color": "#00c000"}, "encoding": {}},
       {"data": {"name": "fR"}, "transform": [{"filter": "datum.s === 'NC'"}], "mark": {"type": "point", "shape": "circle", "filled": true, "size": 50, "opacity": 1, "color": "#0000ff"}, "encoding": {}},
       {"data": {"name": "fR_txt"}, "mark": {"type": "text", "fontSize": 10, "fontWeight": "bold", "baseline": "middle", "color": "#000"}, "encoding": {"text": {"field": "label"}}},
       {"data": {"name": "fR_arr"}, "mark": {"type": "rule", "strokeWidth": 1.5, "color": "#000"}, "encoding": {"y2": {"field": "v2"}}},
       {"data": {"name": "fR_arr"}, "mark": {"type": "point", "shape": "triangle-down", "filled": true, "color": "#000", "size": 45, "opacity": 1}, "encoding": {"y": {"field": "v2", "type": "quantitative", "title": "OCR (pmol/min)", "scale": {"domain": [0, 300], "nice": false}}}},
       {"data": {"name": "fR_st"}, "mark": {"type": "text", "fontSize": 15, "baseline": "alphabetic", "dy": 9, "color": "#000"}, "encoding": {"text": {"field": "label"}}}
      ]
     }
    ]
   }
  ]
 }
]
}
